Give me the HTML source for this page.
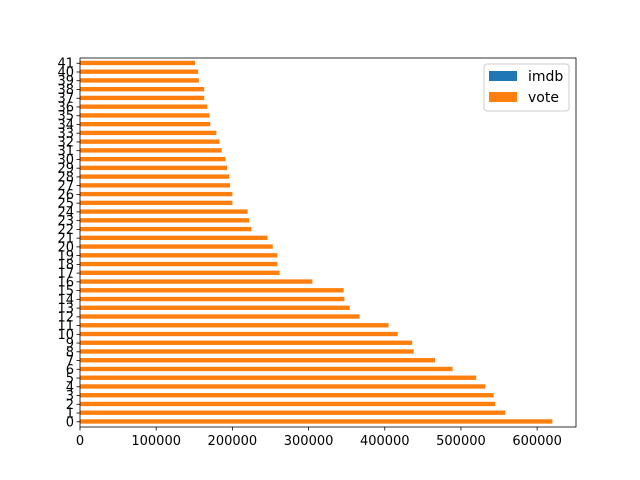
<!DOCTYPE html>
<html><head><meta charset="utf-8"><style>
html,body{margin:0;padding:0;background:#fff;}
svg{display:block;font-family:"DejaVu Sans","Liberation Sans",sans-serif;}
</style></head><body>
<svg id="chart" width="640" height="480" viewBox="0 0 640 480">
<rect width="640" height="480" fill="#fff"/>
<g id="bars"></g>
<g id="axes"></g>
<g>
<rect x="484" y="64" width="85" height="47" rx="3" fill="#fff" stroke="#ccc" stroke-width="1"/>
<rect x="489" y="71" width="28" height="10" fill="#1f77b4"/>
<text x="528" y="81" font-size="14">imdb</text>
<rect x="489" y="92" width="28" height="10" fill="#ff7f0e"/>
<text x="528" y="102" font-size="14">vote</text>
</g>
</svg>
<script>
const categories = [0,1,2,3,4,5,6,7,8,9,10,11,12,13,14,15,16,17,18,19,20,21,22,23,24,25,26,27,28,29,30,31,32,33,34,35,36,37,38,39,40,41];
const imdbValues = [8.1,8.2,8.3,8.3,8.1,8.4,8.0,8.2,8.3,8.1,8.0,8.4,8.2,8.1,8.3,8.0,8.2,8.1,8.1,8.3,8.2,8.0,8.1,8.2,8.4,8.0,8.1,8.3,8.2,8.1,8.0,8.2,8.1,8.3,8.2,8.0,8.1,8.2,8.3,8.1,8.0,8.2];
const voteValues = [620000,558000,545000,543000,532000,520000,489000,466000,438000,436000,417000,405000,367000,354000,347000,346000,305000,262000,259000,259000,253000,246000,225000,222000,220000,200000,200000,197000,196000,193000,191000,186000,183000,179000,171000,170000,167000,163000,163000,156000,155000,151000];
const xTicks = [0,100000,200000,300000,400000,500000,600000];

const NS='http://www.w3.org/2000/svg';
const L=80,R=576,T=58,B=427;
const xMax=Math.max(...voteValues)*1.05;
const n=categories.length;
const yMin=-0.6,yMax=n-1+0.6;
function xs(v){return L+v/xMax*(R-L);}
function ys(k){return B-(k-yMin)/(yMax-yMin)*(B-T);}
function mk(tag,attrs,parent){const e=document.createElementNS(NS,tag);for(const k in attrs)e.setAttribute(k,attrs[k]);parent.appendChild(e);return e;}
const bars=document.getElementById('bars'), axes=document.getElementById('axes');
const unit=(B-T)/(yMax-yMin);
const bh=unit*0.5;
categories.forEach((c,i)=>{
  const yc=ys(c);
  const r2=mk('rect',{x:xs(0),y:yc-bh/2-0.3,width:xs(imdbValues[i])-xs(0),height:bh,fill:'#1f77b4'},bars);
  
  
  const r=mk('rect',{x:xs(0),y:yc-bh/2-0.3,width:xs(voteValues[i])-xs(0),height:bh,fill:'#ff7f0e'},bars);
  
  
  mk('line',{x1:L,x2:L-3.5,y1:yc,y2:yc,stroke:'#000','stroke-width':0.8},axes);
  const t=mk('text',{x:L-6,y:yc+4.5,'text-anchor':'end','font-size':13},axes);
  t.textContent=c;
  
  
});
xTicks.forEach(v=>{
  const x=xs(v);
  mk('line',{x1:x,x2:x,y1:B,y2:B+3.5,stroke:'#000','stroke-width':0.8},axes);
  const t=mk('text',{x:x,y:B+18,'text-anchor':'middle','font-size':13},axes);
  t.textContent=v;
  
  
});
const fr=mk('rect',{x:L,y:T,width:R-L,height:B-T,fill:'none',stroke:'#000','stroke-width':0.8},axes);


</script>
</body></html>
